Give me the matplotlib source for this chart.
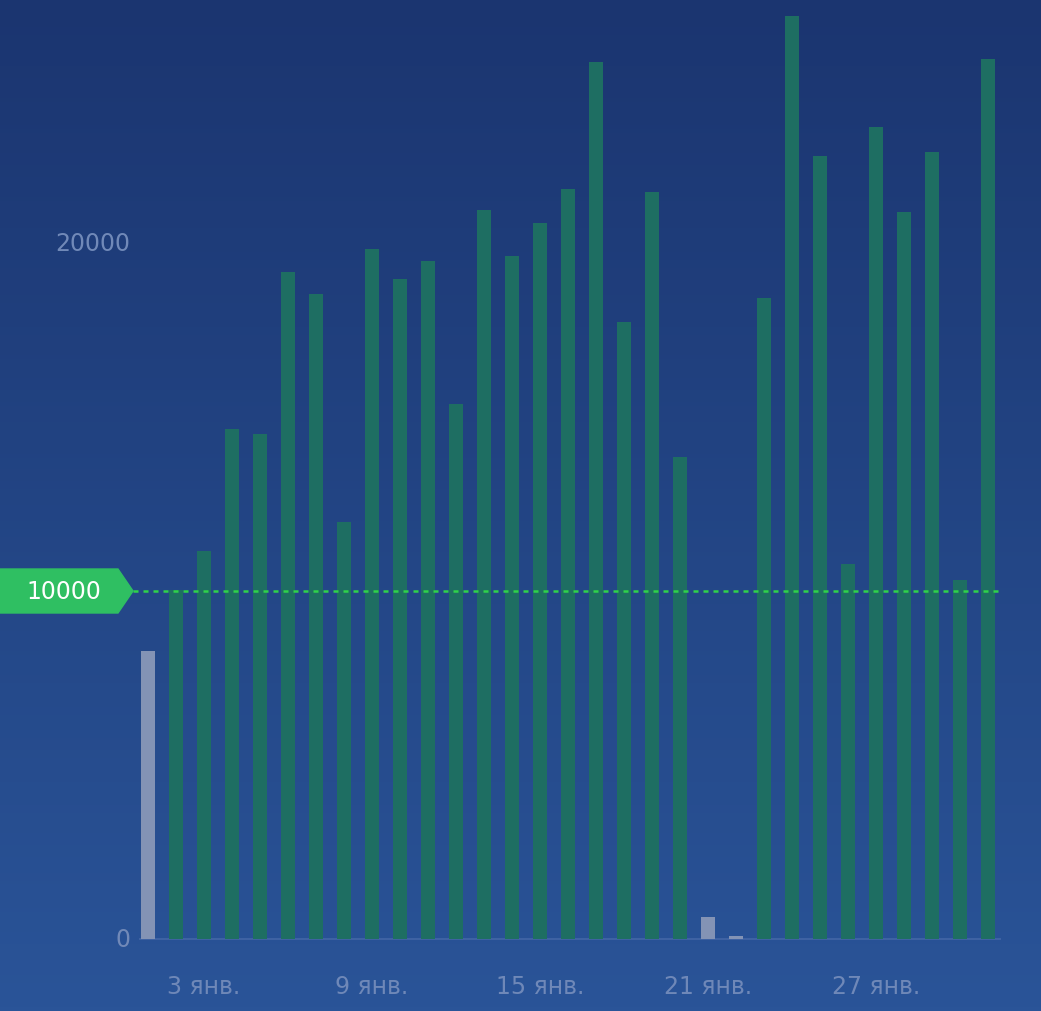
import numpy as np
import matplotlib.pyplot as plt
from matplotlib.patches import Polygon

days = list(range(1, 32))
steps = [8280, 10030, 11150, 14650, 14510, 19170, 18530, 11980, 19830, 18970,
         19480, 15370, 20950, 19630, 20570, 21550, 25200, 17730, 21470, 13850,
         630, 90, 18420, 26520, 22500, 10780, 23330, 20890, 22610, 10320, 25290]
goal = 10000
ytick_vals = [0, 20000]
xtick_days = [3, 9, 15, 21, 27]
xtick_labels = ["3 янв.", "9 янв.", "15 янв.", "21 янв.", "27 янв."]

W, H = 1041, 1012
fig = plt.figure(figsize=(W / 100, H / 100), dpi=100)
ax = fig.add_axes([0, 0, 1, 1])

# pixel mapping: day 1 at px 148, step 28; value 0 at px 940, 34.8 px per 1000
x0 = 1 - 148 / 28
x1 = 1 + (W - 148) / 28
ytop = 940 / 34.8 * 1000
ybot = -(H - 940) / 34.8 * 1000
ax.set_xlim(x0, x1)
ax.set_ylim(ybot, ytop)
ax.axis("off")

# background gradient
grad = np.linspace(0, 1, 256).reshape(-1, 1)
top = np.array([0x1b, 0x35, 0x70]) / 255
bot = np.array([0x2a, 0x54, 0x98]) / 255
img = top + (bot - top) * grad[:, :, None]
ax.imshow(img, extent=[x0, x1, ybot, ytop], aspect="auto", origin="upper", zorder=0)

colors = ["#1e6e62" if s >= goal else "#8393b5" for s in steps]
ax.bar(days, steps, width=0.5, color=colors, zorder=2)

# baseline
ax.plot([x0 + 140 / 28, x0 + 1000 / 28], [0, 0], color="#3e62a3", lw=1.5, zorder=1)

# goal line and tag
ax.axhline(goal, xmin=133 / W, xmax=1000 / W, color="#2fd24a", ls=(0, (2, 2)), lw=1.8, zorder=3)
hy = 22 / 34.8 * 1000
tag = Polygon([(x0, goal - hy), (x0 + 118 / 28, goal - hy), (x0 + 133 / 28, goal),
               (x0 + 118 / 28, goal + hy), (x0, goal + hy)], closed=True,
              color="#2fbf62", zorder=4)
ax.add_patch(tag)
ax.text(x0 + 64 / 28, goal, "10000", color="white", fontsize=17, ha="center",
        va="center", zorder=5)

for v in ytick_vals:
    ax.text(x0 + 130 / 28, v, str(v), color="#7189b8", fontsize=17, ha="right",
            va="center", zorder=5)

for d, lab in zip(xtick_days, xtick_labels):
    ax.text(d, -(987 - 940) / 34.8 * 1000, lab, color="#6f88b8", fontsize=17,
            ha="center", va="center", zorder=5)

fig.savefig("out.png", dpi=100)
